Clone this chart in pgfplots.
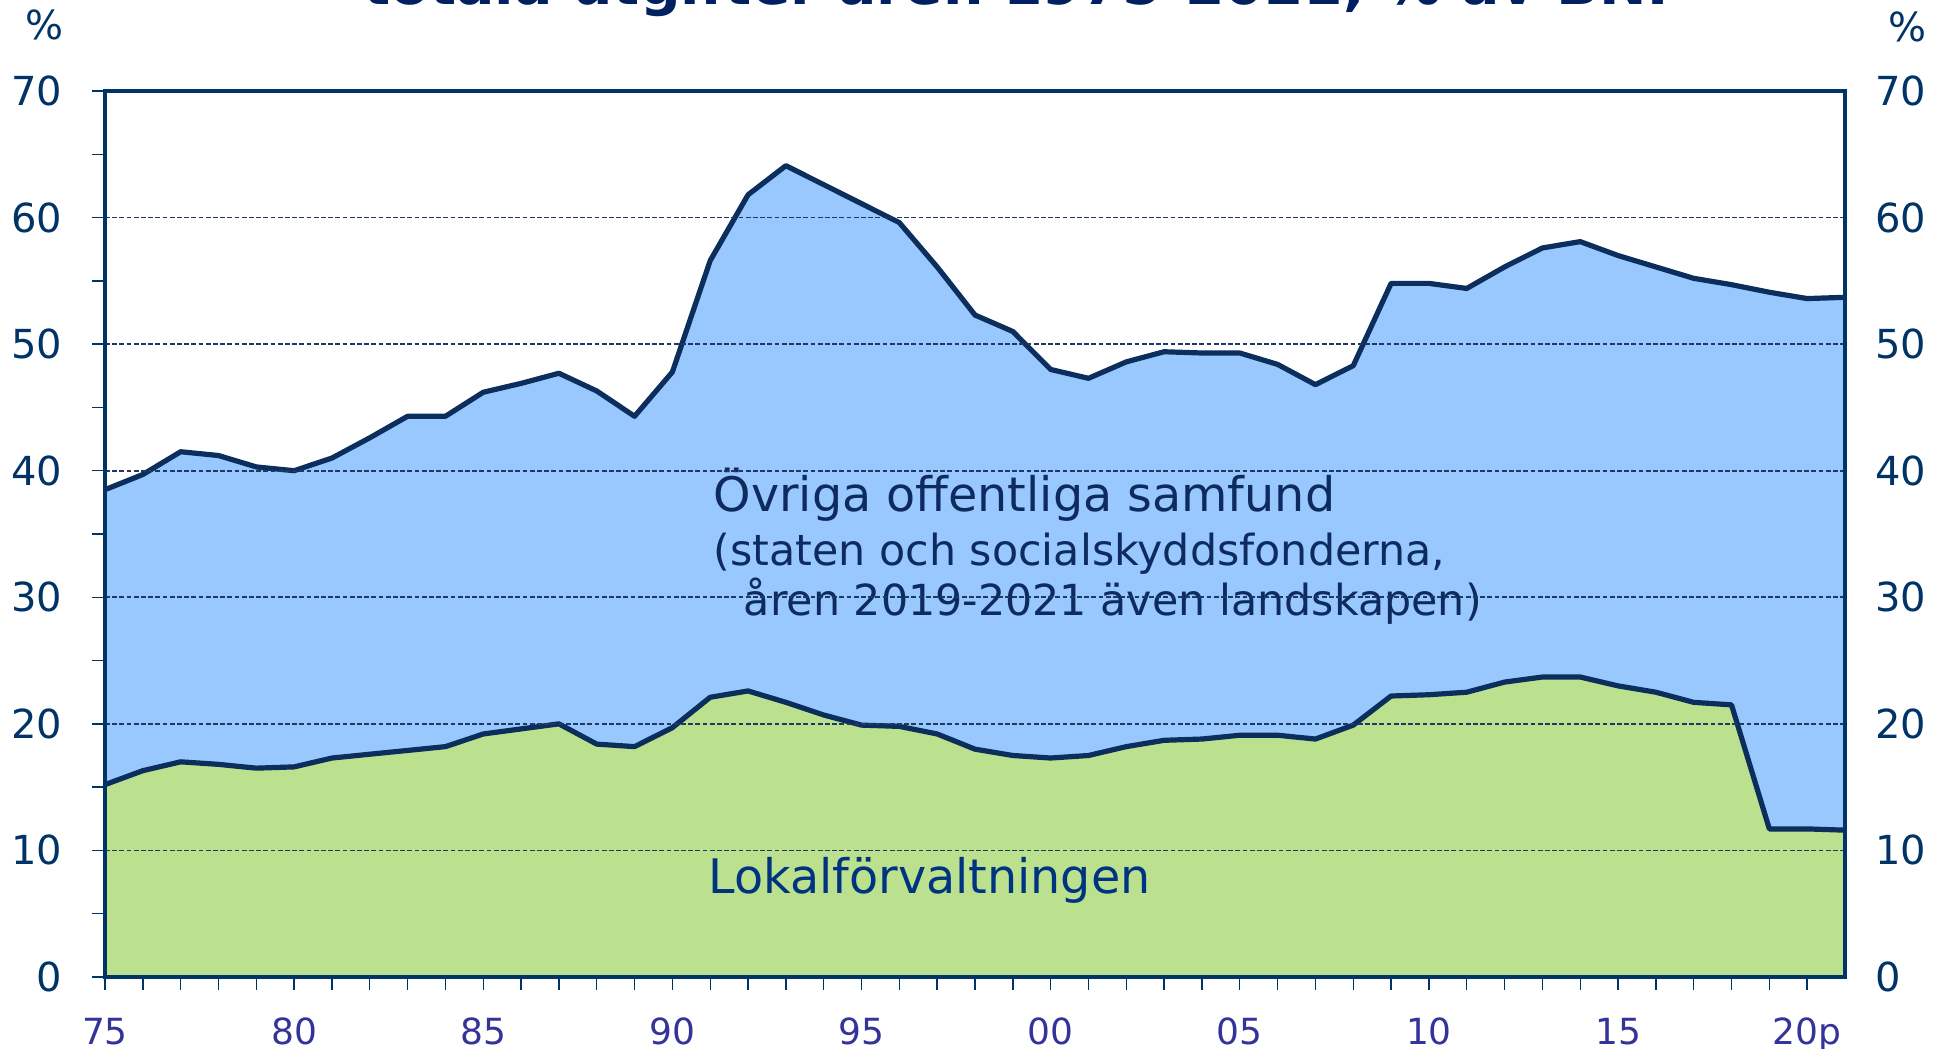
\documentclass[border=0pt]{standalone}
\usepackage{fontspec}
\setmainfont{DejaVu Sans}
\usepackage{pgfplots}
\usepackage{pgfplotstable}
\pgfplotsset{compat=1.18}
\definecolor{navy}{HTML}{003366}
\definecolor{linenavy}{HTML}{0B2E5C}
\definecolor{titlenavy}{HTML}{002060}
\definecolor{xlab}{HTML}{333399}
\definecolor{areablue}{HTML}{99C8FF}
\definecolor{areagreen}{HTML}{BBE18F}
\definecolor{txtdark}{HTML}{0D2B5E}
\definecolor{txtlokal}{HTML}{003380}
\definecolor{gridnavy}{HTML}{1F3864}

\pgfplotstableread{
year total local
1975 38.5 15.2
1976 39.7 16.3
1977 41.5 17.0
1978 41.2 16.8
1979 40.3 16.5
1980 40.0 16.6
1981 41.0 17.3
1982 42.6 17.6
1983 44.3 17.9
1984 44.3 18.2
1985 46.2 19.2
1986 46.9 19.6
1987 47.7 20.0
1988 46.3 18.4
1989 44.3 18.2
1990 47.8 19.7
1991 56.6 22.1
1992 61.8 22.6
1993 64.1 21.7
1994 62.6 20.7
1995 61.1 19.9
1996 59.6 19.8
1997 56.1 19.2
1998 52.3 18.0
1999 51.0 17.5
2000 48.0 17.3
2001 47.3 17.5
2002 48.6 18.2
2003 49.4 18.7
2004 49.3 18.8
2005 49.3 19.1
2006 48.4 19.1
2007 46.8 18.8
2008 48.3 19.9
2009 54.8 22.2
2010 54.8 22.3
2011 54.4 22.5
2012 56.1 23.3
2013 57.6 23.7
2014 58.1 23.7
2015 57.0 23.0
2016 56.1 22.5
2017 55.2 21.7
2018 54.7 21.5
2019 54.1 11.7
2020 53.6 11.7
2021 53.7 11.6
}\data

\begin{document}
\begin{tikzpicture}[x=1pt,y=1pt]
\begin{axis}[
  at={(26.25pt,18pt)}, anchor=south west,
  scale only axis, width=435pt, height=221.5pt,
  xmin=1975, xmax=2021, ymin=0, ymax=70,
  axis on top,
  xtick={1975,1980,...,2020},
  xticklabels={75,80,85,90,95,00,05,10,15,20p},
  minor x tick num=4,
  ytick={0,10,...,70},
  minor y tick num=1,
  xtick pos=left, ytick pos=left,
  tick align=outside,
  major tick length=3.2pt, minor tick length=3.2pt,
  every tick/.style={draw=navy, line width=0.35pt},
  axis line style={draw=navy, line width=0.8pt},
  ymajorgrids,
  major grid style={draw=gridnavy, line width=0.4pt, dash pattern=on 1.2pt off 0.6pt},
  /pgf/number format/assume math mode=true,
  yticklabel style={font=\fontsize{10}{12}\selectfont, text=navy, xshift=-4pt},
  xticklabel style={font=\fontsize{9}{10}\selectfont, text=xlab, yshift=-3.5pt},
]
\addplot[fill=areablue, draw=none] table[x=year,y=total] {\data} \closedcycle;
\addplot[fill=areagreen, draw=none] table[x=year,y=local] {\data} \closedcycle;
\addplot[draw=linenavy, line width=1.3pt, line join=round] table[x=year,y=total] {\data};
\addplot[draw=linenavy, line width=1.3pt, line join=round] table[x=year,y=local] {\data};
\node[anchor=base west, inner sep=0pt, text=txtdark, font=\fontsize{11.9}{14}\selectfont] at (axis cs:1991.07,36.74) {Övriga offentliga samfund};
\node[anchor=base west, inner sep=0pt, text=txtdark, font=\fontsize{10.7}{13}\selectfont] at (axis cs:1991.07,32.5) {(staten och socialskyddsfonderna,};
\node[anchor=base west, inner sep=0pt, text=txtdark, font=\fontsize{10.7}{13}\selectfont] at (axis cs:1991.87,28.6) {åren 2019-2021 även landskapen)};
\node[anchor=base west, inner sep=0pt, text=txtlokal, font=\fontsize{11.9}{14}\selectfont] at (axis cs:1990.94,6.56) {Lokalförvaltningen};
\end{axis}
\begin{axis}[
  at={(26.25pt,18pt)}, anchor=south west,
  scale only axis, width=435pt, height=221.5pt,
  xmin=1975, xmax=2021, ymin=0, ymax=70,
  hide x axis,
  axis y line*=right,
  y axis line style={draw=none},
  ytick={0,10,...,70},
  ytick style={draw=none},
  /pgf/number format/assume math mode=true,
  yticklabel style={font=\fontsize{10}{12}\selectfont, text=navy, xshift=4pt},
]
\end{axis}
\node[text=navy, font=\fontsize{10}{12}\selectfont] at (11.25pt,256pt) {\%};
\node[text=navy, font=\fontsize{10}{12}\selectfont] at (476.75pt,255.5pt) {\%};
\node[anchor=base, inner sep=0pt, text=titlenavy, font=\bfseries\fontsize{14.2}{17}\selectfont] at (256.5pt,261pt) {totala utgifter åren 1975-2021, \% av BNP};
\pgfresetboundingbox
\path (0,0) rectangle (485.25pt,262.25pt);
\end{tikzpicture}
\end{document}
